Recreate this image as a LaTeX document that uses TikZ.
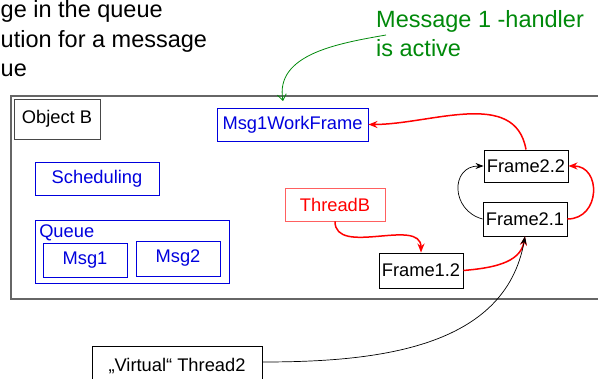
\documentclass[tikz,border=0pt]{standalone}
\usepackage{fontspec}
\setmainfont{Liberation Sans}
\usetikzlibrary{positioning, calc, arrows.meta}
\definecolor{Frame}{HTML}{666666}
\definecolor{Blue}{HTML}{0000DD}
\definecolor{Red}{HTML}{FF0000}
\definecolor{LightRed}{HTML}{FF6060}
\definecolor{Green}{HTML}{00890A}
\tikzset{
    blackbox/.style={rectangle, draw=black, line width=0.9pt, inner sep=0pt, minimum width=84pt, minimum height=34pt, font=\fontsize{18.3}{22}\selectfont},
    bluebox/.style={blackbox, draw=Blue, text=Blue},
    redbox/.style={blackbox, draw=LightRed, text=Red},
    bigtext/.style={inner sep=0pt, align=left, font=\fontsize{23.5}{29.5}\selectfont},
    redarrow/.style={-{Stealth[length=9pt, width=7pt]}, draw=Red, line width=1.5pt},
    blackarrow/.style={-{Stealth[length=8pt, width=6pt]}, draw=black, line width=0.7pt},
    greenarrow/.style={-{Straight Barb[length=6pt, width=9pt]}, draw=Green, line width=0.8pt},
}

\begin{document}
\begin{tikzpicture}[x=1pt, y=-1pt]
    \useasboundingbox (0,0) rectangle (598,379);
    \clip (0,0) rectangle (598,379);

    % texts on top
    \node[bigtext, anchor=north west] (intro) at (0.5,0.5) {ge in the queue\\ution for a message\\ue};
    \node[bigtext, anchor=north west, text=Green] (active) at (376,10) {Message 1 -handler\\is active};

    % Object B frame
    \draw[Frame, line width=1.5pt] (11,96) rectangle (620,299);
    \node[blackbox, draw=Frame!70!black, minimum width=86pt, minimum height=40pt] (objB) at (57,119) {Object B};

    % scheduling and queue
    \node[bluebox, minimum width=124pt, minimum height=33pt] (sched) at (97,178.5) {Scheduling};
    \node[bluebox, minimum width=194pt, minimum height=63pt] (queue) at (132,251.5) {};
    \node[anchor=north west, inner sep=4.5pt, text=Blue, font=\fontsize{18.3}{22}\selectfont] (qlabel) at (queue.north west) {Queue};
    \node[bluebox] (msg1) at (85,260) {Msg1};
    \node[bluebox, minimum height=35pt] (msg2) at (178,258.5) {Msg2};

    % frames
    \node[bluebox, minimum width=151pt, minimum height=33pt] (work) at (292.5,124.5) {Msg1WorkFrame};
    \node[redbox, minimum width=100pt, minimum height=33pt] (threadB) at (335,204.5) {ThreadB};
    \node[blackbox, minimum height=32pt] (f22) at (526,166) {Frame2.2};
    \node[blackbox] (f21) at (525,219) {Frame2.1};
    \node[blackbox, minimum height=35pt] (f12) at (421,270.5) {Frame1.2};
    \node[blackbox, minimum width=170pt, minimum height=40pt] (virt) at (177,366) {„Virtual“ Thread2};

    % connectors
    \draw[redarrow] (f22.north) to[out=100, in=0] (work.east);
    \draw[blackarrow] (f21.west) to[out=165, in=180, looseness=1.6] (f22.west);
    \draw[redarrow] (f21.east) to[out=0, in=0, looseness=1.6] (f22.east);
    \draw[redarrow] (threadB.south) to[out=-90, in=90] (f12.north);
    \draw[redarrow] (f12.east) to[out=5, in=-100] (f21.south);
    \draw[blackarrow] ([yshift=4pt]virt.east) to[out=0, in=-100] (f21.south);

    \coordinate (gstart) at (386,35);
    \coordinate (gend) at (283,101);
    \draw[greenarrow] (gstart) to[out=190, in=100] (gend);
\end{tikzpicture}
\end{document}
